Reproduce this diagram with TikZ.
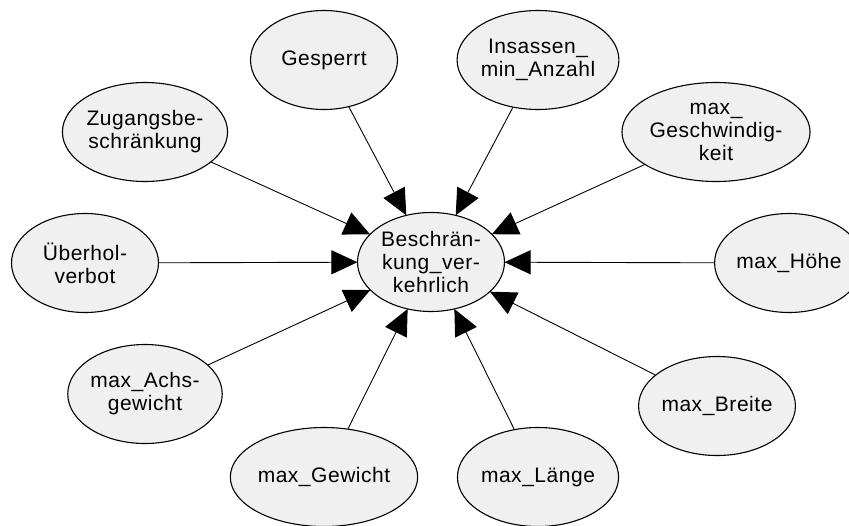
\documentclass[tikz,border=0pt]{standalone}
\usepackage{fontspec}
\setmainfont{Liberation Sans}[LetterSpace=2.5]
\usetikzlibrary{shapes.geometric,arrows.meta}
\tikzset{
  ent/.style={ellipse, draw=black, line width=1.1pt, fill=gray!12,
    minimum width=147pt, minimum height=99pt, inner sep=0pt, align=center,
    font=\fontsize{21}{23}\selectfont},
  rel/.style={draw=black, line width=0.9pt,
    -{Triangle[length=26pt,width=24pt]}, shorten >=-0.5pt}
}
\begin{document}
\begin{tikzpicture}[x=1pt,y=-1pt]
\useasboundingbox (0,0) rectangle (849,525);
\node[ent] (c) at (431,262) {Beschrän-\\kung\_ver-\\kehrlich};
\node[ent] (ges) at (324,60) {Gesperrt};
\node[ent] (ins) at (538,60) {Insassen\_\\min\_Anzahl};
\node[ent] (gw) at (716,132) {max\_\\Geschwindig-\\keit};
\node[ent] (hoe) at (789,263) {max\_Höhe};
\node[ent] (br) at (717,406) {max\_Breite};
\node[ent] (la) at (538,477) {max\_Länge};
\node[ent] (gew) at (324,477) {max\_Gewicht};
\node[ent] (ach) at (145,394) {max\_Achs-\\gewicht};
\node[ent] (ueb) at (85,263) {Überhol-\\verbot};
\node[ent] (zug) at (145,132) {Zugangsbe-\\schränkung};
\foreach \n in {ges,ins,gw,hoe,br,la,gew,ach,ueb,zug}
  \draw[rel] (\n) -- (c);
\end{tikzpicture}
\end{document}
